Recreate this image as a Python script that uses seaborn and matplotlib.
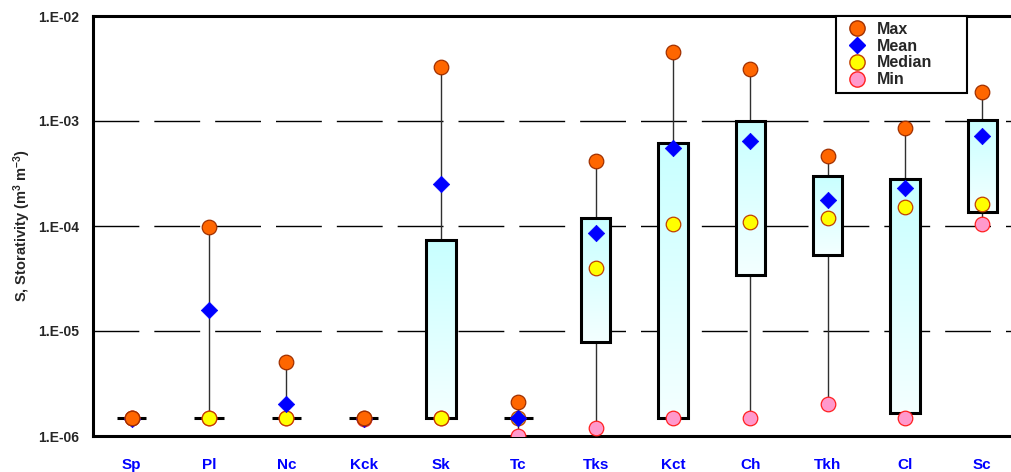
import numpy as np
import pandas as pd
import matplotlib
matplotlib.use("Agg")
import matplotlib.pyplot as plt
import seaborn as sns
from matplotlib.ticker import FixedLocator, NullLocator
from matplotlib.lines import Line2D
from matplotlib.colors import LinearSegmentedColormap

units = ["Sp", "Pl", "Nc", "Kck", "Sk", "Tc", "Tks", "Kct", "Ch", "Tkh", "Cl", "Sc"]
s_max = [1.5e-6, 9.8e-5, 5.1e-6, 1.5e-6, 3.3e-3, 2.1e-6, 4.2e-4, 4.5e-3, 3.1e-3, 4.6e-4, 8.6e-4, 1.9e-3]
s_mean = [1.45e-6, 1.6e-5, 2.0e-6, 1.45e-6, 2.5e-4, 1.5e-6, 8.5e-5, 5.5e-4, 6.4e-4, 1.75e-4, 2.3e-4, 7.2e-4]
s_median = [1.5e-6, 1.5e-6, 1.5e-6, 1.5e-6, 1.5e-6, 1.5e-6, 3.95e-5, 1.04e-4, 1.08e-4, 1.2e-4, 1.52e-4, 1.63e-4]
s_min = [1.5e-6, 1.5e-6, 1.5e-6, 1.45e-6, 1.5e-6, 1.0e-6, 1.2e-6, 1.5e-6, 1.5e-6, 2.0e-6, 1.5e-6, 1.04e-4]
q1 = [1.5e-6, 1.5e-6, 1.5e-6, 1.5e-6, 1.5e-6, 1.5e-6, 7.8e-6, 1.5e-6, 3.4e-5, 5.3e-5, 1.64e-6, 1.35e-4]
q3 = [1.5e-6, 1.5e-6, 1.5e-6, 1.5e-6, 7.4e-5, 1.5e-6, 1.2e-4, 6.2e-4, 1.0e-3, 3.0e-4, 2.8e-4, 1.02e-3]
y_ticks = [1e-6, 1e-5, 1e-4, 1e-3, 1e-2]
y_tick_labels = ["1.E-06", "1.E-05", "1.E-04", "1.E-03", "1.E-02"]

df = pd.DataFrame({"unit": units, "max": s_max, "mean": s_mean, "median": s_median,
                   "min": s_min, "q1": q1, "q3": q3})
df["pos"] = np.arange(len(df))

sns.set_style("white")
plt.rcParams["font.family"] = ["Liberation Sans", "DejaVu Sans"]
plt.rcParams["font.weight"] = "bold"
plt.rcParams["mathtext.fontset"] = "custom"
plt.rcParams["mathtext.rm"] = "Liberation Sans:bold"
plt.rcParams["mathtext.bf"] = "Liberation Sans:bold"
plt.rcParams["mathtext.default"] = "bf"

fig = plt.figure(figsize=(10.11, 4.72), dpi=100)
ax = fig.add_axes([93 / 1011, 36 / 472, 928 / 1011, 420 / 472])
ax.set_yscale("log")
ax.set_ylim(1e-6, 1e-2)
ax.set_xlim(-0.5, len(units) - 0.5)

# whiskers
ax.vlines(df["pos"], df["min"], df["max"], color="#303030", lw=1.0, zorder=2)
# boxes (outline on top, gradient fill clipped inside)
bars = ax.bar(df["pos"], df["q3"] - df["q1"], bottom=df["q1"], width=0.38,
              facecolor="none", edgecolor="black", linewidth=2.2, zorder=4)
cmap = LinearSegmentedColormap.from_list("cy", ["#f4ffff", "#c8ffff"])
grad = np.linspace(0, 1, 256).reshape(-1, 1)
to_axes = ax.transData + ax.transAxes.inverted()
for b in bars:
    if b.get_height() > 0:
        x0, y0 = to_axes.transform((b.get_x(), b.get_y()))
        x1, y1 = to_axes.transform((b.get_x() + b.get_width(), b.get_y() + b.get_height()))
        im = ax.imshow(grad, extent=(x0, x1, y0, y1), origin="lower", aspect="auto",
                       cmap=cmap, transform=ax.transAxes, zorder=3, interpolation="bilinear")
        im.set_clip_path(b)

mk = dict(s=110, zorder=5, legend=False)
sns.scatterplot(data=df, x="pos", y="min", marker="o", color="#ff99cc", edgecolor="#ff2020", linewidth=0.9, ax=ax, **mk)
sns.scatterplot(data=df, x="pos", y="median", marker="o", color="#ffff00", edgecolor="#c04000", linewidth=0.9, ax=ax, **mk)
sns.scatterplot(data=df, x="pos", y="mean", marker="D", color="#0000ff", edgecolor="#0000ff", linewidth=0.5, ax=ax, s=70, zorder=6, legend=False)
sns.scatterplot(data=df, x="pos", y="max", marker="o", color="#ff6600", edgecolor="#a03000", linewidth=0.9, ax=ax, s=110, zorder=7, legend=False)

# grid
for v in y_ticks[1:4]:
    ax.axhline(v, color="black", lw=1.0, dashes=(33, 10.8), zorder=1)

ax.set_ylim(1e-6, 1e-2)
ax.set_xlim(-0.5, len(units) - 0.5)
ax.yaxis.set_major_locator(FixedLocator(y_ticks))
ax.set_yticklabels(y_tick_labels)
ax.yaxis.set_minor_locator(NullLocator())
ax.set_xticks(df["pos"])
ax.set_xticklabels(units, color="#0000ff", fontsize=11, fontweight="bold")
ax.xaxis.set_minor_locator(FixedLocator(np.arange(0.5, len(units) - 0.5, 1.0)))
ax.tick_params(axis="x", which="major", length=0, pad=16)
ax.tick_params(axis="x", which="minor", length=5, direction="in", width=1, color="black")
ax.tick_params(axis="y", which="major", length=0, labelsize=10, pad=10)
for lab in ax.get_yticklabels():
    lab.set_fontweight("bold")
ax.set_xlabel("")
ax.set_ylabel("S, Storativity (m$^3$ m$^{-3}$)", fontsize=10.5, fontweight="bold", labelpad=4)
for side in ["left", "bottom", "top", "right"]:
    ax.spines[side].set_color("black")
    ax.spines[side].set_linewidth(2.2)

handles = [
    Line2D([], [], ls="", marker="o", ms=11, mfc="#ff6600", mec="#a03000", label="Max"),
    Line2D([], [], ls="", marker="D", ms=8.5, mfc="#0000ff", mec="#0000ff", label="Mean"),
    Line2D([], [], ls="", marker="o", ms=11, mfc="#ffff00", mec="#c04000", label="Median"),
    Line2D([], [], ls="", marker="o", ms=11, mfc="#ff99cc", mec="#ff2020", label="Min"),
]
leg = fig.legend(handles=handles, loc="upper left",
                 bbox_to_anchor=(836 / 1011, 1 - 104 / 472, 131 / 1011, 88 / 472),
                 mode="expand", frameon=True, fancybox=False, edgecolor="black", framealpha=1,
                 prop={"weight": "bold", "size": 11.5}, labelspacing=0.12,
                 handletextpad=0.3, borderpad=0.35, handlelength=1.9, borderaxespad=0)
leg.get_frame().set_linewidth(1.5)

fig.savefig("out.png", dpi=100)
